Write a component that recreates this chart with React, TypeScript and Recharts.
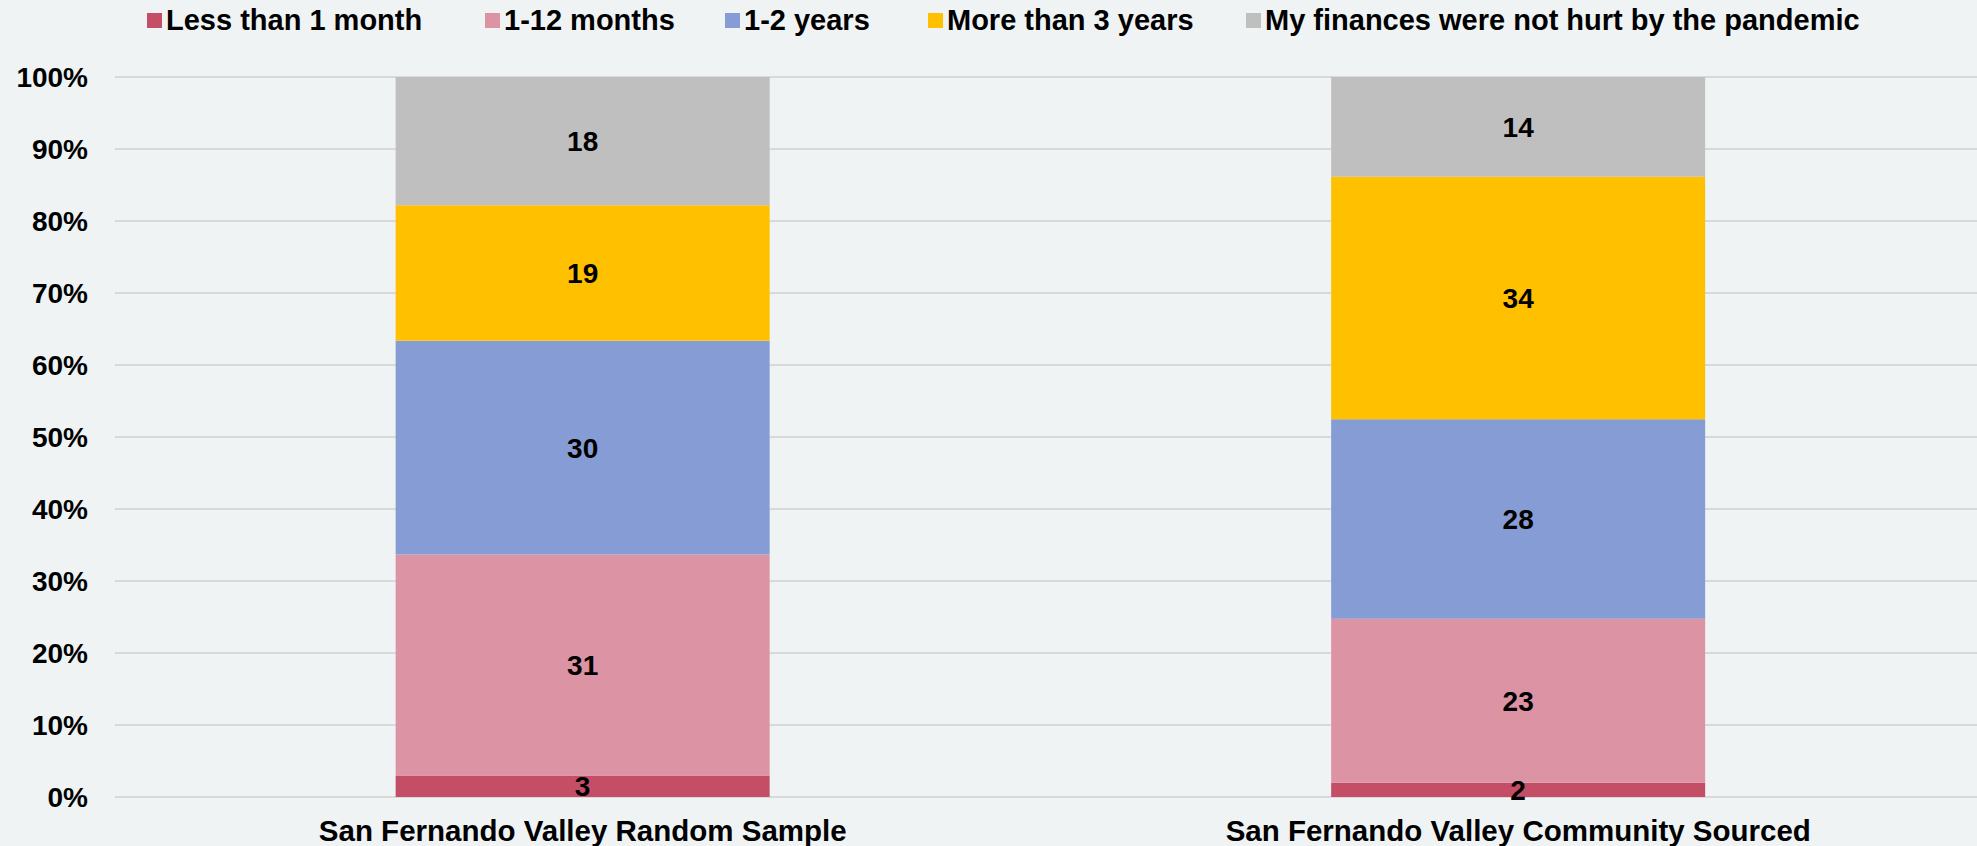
import React from 'react';
import {
  BarChart,
  Bar,
  XAxis,
  YAxis,
  CartesianGrid,
  Legend,
  LabelList,
} from 'recharts';

const categories = [
  'San Fernando Valley Random Sample',
  'San Fernando Valley Community Sourced',
];

const lessThanMonth = [3, 2];
const oneToTwelveMonths = [31, 23];
const oneToTwoYears = [30, 28];
const moreThanThreeYears = [19, 34];
const notHurt = [18, 14];

const yTicks = [0, 0.1, 0.2, 0.3, 0.4, 0.5, 0.6, 0.7, 0.8, 0.9, 1];

const series = [
  { key: 'less', name: 'Less than 1 month', color: '#C34E66', values: lessThanMonth },
  { key: 'months', name: '1-12 months', color: '#DC93A3', values: oneToTwelveMonths },
  { key: 'years', name: '1-2 years', color: '#869CD5', values: oneToTwoYears },
  { key: 'more', name: 'More than 3 years', color: '#FFC000', values: moreThanThreeYears },
  { key: 'notHurt', name: 'My finances were not hurt by the pandemic', color: '#BFBFBF', values: notHurt },
];

const data = categories.map((name, i) => {
  const row: Record<string, string | number> = { name };
  series.forEach((s) => {
    row[s.key] = s.values[i];
  });
  return row;
});

const FONT = '"Liberation Sans", Arial, sans-serif';

// legend item left edges
const legendX = [147, 485, 725, 928, 1246];

function ChartLegend() {
  return (
    <div style={{ position: 'relative', width: 1977, height: 40 }}>
      {series.map((s, i) => (
        <div
          key={s.key}
          style={{
            position: 'absolute',
            left: legendX[i],
            top: 0,
            height: 40,
            display: 'flex',
            alignItems: 'center',
            fontFamily: FONT,
            fontWeight: 700,
            fontSize: 29,
            color: '#000',
            whiteSpace: 'nowrap',
          }}
        >
          <span
            style={{
              display: 'inline-block',
              width: 15,
              height: 15,
              background: s.color,
              marginRight: 4,
            }}
          />
          {s.name}
        </div>
      ))}
    </div>
  );
}

export default function App() {
  return (
    <div
      style={{
        position: 'absolute',
        left: 0,
        top: 0,
        width: 1977,
        height: 846,
        overflow: 'hidden',
        background: '#EFF3F4',
      }}
    >
      <BarChart
        width={1986}
        height={846}
        data={data}
        stackOffset="expand"
        barCategoryGap="30%"
        margin={{ top: 37, right: 0, left: 0, bottom: 0 }}
      >
        <CartesianGrid vertical={false} stroke="#D9D9D9" strokeWidth={2} />
        <XAxis
          dataKey="name"
          axisLine={false}
          tickLine={false}
          tickSize={0}
          tickMargin={23}
          height={49}
          interval={0}
          tick={{ fill: '#000', fontSize: 29.5, fontWeight: 700, fontFamily: FONT }}
        />
        <YAxis
          type="number"
          domain={[0, 1]}
          ticks={yTicks}
          width={115}
          axisLine={false}
          tickLine={false}
          tickSize={0}
          tickMargin={27}
          tickFormatter={(v: number) => `${Math.round(v * 100)}%`}
          tick={{ fill: '#000', fontSize: 28, fontWeight: 700, fontFamily: FONT }}
        />
        <Legend
          verticalAlign="top"
          align="left"
          wrapperStyle={{ top: 0, left: 0 }}
          content={() => <ChartLegend />}
        />
        {series.map((s) => (
          <Bar
            key={s.key}
            dataKey={s.key}
            name={s.name}
            stackId="a"
            fill={s.color}
            isAnimationActive={false}
          >
            <LabelList
              dataKey={s.key}
              position="center"
              fill="#000"
              fontSize={28}
              fontWeight={700}
              fontFamily={FONT}
            />
          </Bar>
        ))}
      </BarChart>
    </div>
  );
}
